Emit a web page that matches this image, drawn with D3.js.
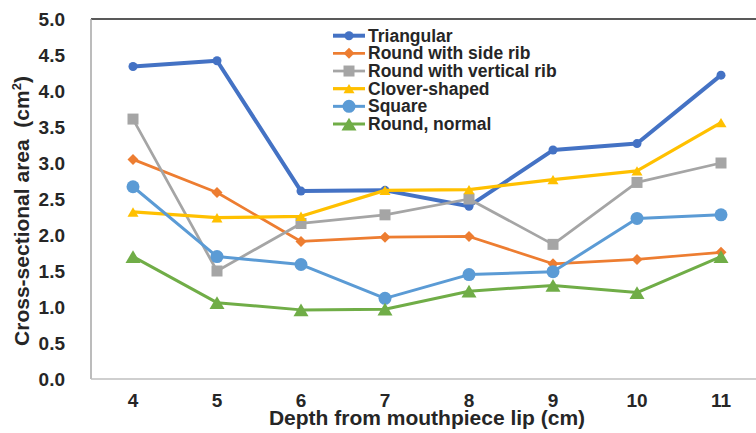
<!DOCTYPE html>
<html>
<head>
<meta charset="utf-8">
<script src="https://cdn.jsdelivr.net/npm/d3@7/dist/d3.min.js"></script>
<style>
  html, body { margin: 0; padding: 0; background: #fff; }
  svg { display: block; font-family: "Liberation Sans", Arial, sans-serif; }
</style>
</head>
<body>
<svg id="chart"></svg>
<script>
// depth categories (cm) and cross-sectional areas (cm²) per mouthpiece shape
const depths = ['4', '5', '6', '7', '8', '9', '10', '11'];
const yTicks = [0, 0.5, 1, 1.5, 2, 2.5, 3, 3.5, 4, 4.5, 5];

const triangular   = [4.34, 4.42, 2.61, 2.62, 2.40, 3.18, 3.27, 4.22];
const sideRib      = [3.05, 2.59, 1.91, 1.97, 1.98, 1.60, 1.66, 1.76];
const verticalRib  = [3.61, 1.50, 2.16, 2.28, 2.50, 1.87, 2.73, 3.00];
const cloverShaped = [2.32, 2.24, 2.26, 2.62, 2.63, 2.77, 2.89, 3.56];
const square       = [2.67, 1.70, 1.59, 1.12, 1.45, 1.49, 2.23, 2.28];
const roundNormal  = [1.70, 1.06, 0.96, 0.97, 1.22, 1.30, 1.20, 1.70];

const seriesNames = ['Triangular', 'Round with side rib', 'Round with vertical rib',
                     'Clover-shaped', 'Square', 'Round, normal'];

const series = [
    { name: seriesNames[0], values: triangular,   color: '#4472C4', width: 4,    marker: 'circle',   size: 4.5 },
    { name: seriesNames[1], values: sideRib,      color: '#ED7D31', width: 2.75, marker: 'diamond',  size: 5.5 },
    { name: seriesNames[2], values: verticalRib,  color: '#A5A5A5', width: 2.75, marker: 'square',   size: 5.5 },
    { name: seriesNames[3], values: cloverShaped, color: '#FFC000', width: 3.25, marker: 'triangle', size: 5.5 },
    { name: seriesNames[4], values: square,       color: '#5B9BD5', width: 3,    marker: 'circle',   size: 6.5 },
    { name: seriesNames[5], values: roundNormal,  color: '#70AD47', width: 3,    marker: 'triangle', size: 7.5 },
];

const W = 756, H = 433;
const plot = { left: 91, top: 19, right: 763, bottom: 379 };

const svg = d3.select('#chart').attr('width', W).attr('height', H);

const x = d3.scaleBand().domain(depths).range([plot.left, plot.right]);
const cx = d => x(d) + x.bandwidth() / 2;
const y = d3.scaleLinear().domain([0, 5]).range([plot.bottom, plot.top]);

// marker path centred on 0,0
function markerPath(type, s) {
    if (type === 'circle') return `M${-s},0A${s},${s} 0 1,0 ${s},0A${s},${s} 0 1,0 ${-s},0Z`;
    if (type === 'diamond') return `M0,${-s}L${s},0L0,${s}L${-s},0Z`;
    if (type === 'square') return `M${-s},${-s}H${s}V${s}H${-s}Z`;
    const h = s * 1.7;
    return `M0,${-h / 2}L${s},${h / 2}L${-s},${h / 2}Z`;
}

// ── plot frame ─────────────────────────────────────────────
svg.append('line')
    .attr('x1', plot.left).attr('x2', W).attr('y1', plot.top).attr('y2', plot.top)
    .attr('stroke', '#595959').attr('stroke-width', 2);
svg.append('line')
    .attr('x1', plot.left).attr('x2', plot.left).attr('y1', plot.top).attr('y2', plot.bottom)
    .attr('stroke', '#A6A6A6').attr('stroke-width', 1.5);
svg.append('line')
    .attr('x1', plot.left).attr('x2', W).attr('y1', plot.bottom).attr('y2', plot.bottom)
    .attr('stroke', '#BFBFBF').attr('stroke-width', 1.5);

// ── axes ───────────────────────────────────────────────────
const yAxis = svg.append('g')
    .attr('transform', `translate(${plot.left},0)`)
    .call(d3.axisLeft(y).tickValues(yTicks).tickSize(0).tickPadding(26).tickFormat(d3.format('.1f')));
yAxis.select('.domain').remove();
yAxis.selectAll('text')
    .attr('font-family', '"Liberation Sans", Arial, sans-serif')
    .attr('font-size', '19px').attr('font-weight', 'bold').attr('fill', '#262626');

const xAxis = svg.append('g')
    .attr('transform', `translate(0,${plot.bottom})`)
    .call(d3.axisBottom(x).tickSize(0).tickPadding(15));
xAxis.select('.domain').remove();
xAxis.selectAll('text')
    .attr('font-family', '"Liberation Sans", Arial, sans-serif')
    .attr('font-size', '19px').attr('font-weight', 'bold').attr('fill', '#262626');

// axis titles
svg.append('text')
    .attr('x', 427).attr('y', 425)
    .attr('text-anchor', 'middle')
    .attr('font-size', '21px').attr('font-weight', 'bold').attr('fill', '#262626')
    .text('Depth from mouthpiece lip (cm)');

const yTitle = svg.append('text')
    .attr('transform', 'translate(29,211) rotate(-90)')
    .attr('text-anchor', 'middle')
    .style('white-space', 'pre')
    .attr('font-size', '21px').attr('font-weight', 'bold').attr('fill', '#262626');
yTitle.append('tspan').text('Cross-sectional area  (cm');
yTitle.append('tspan').attr('font-size', '13px').attr('dy', -8).text('2');
yTitle.append('tspan').attr('dy', 8).text(')');

// ── series ─────────────────────────────────────────────────
const line = d3.line().x((v, i) => cx(depths[i])).y(v => y(v));

series.forEach(s => {
    const g = svg.append('g');
    g.append('path')
        .attr('d', line(s.values))
        .attr('fill', 'none')
        .attr('stroke', s.color)
        .attr('stroke-width', s.width)
        .attr('stroke-linejoin', 'round');
    g.selectAll('path.mk')
        .data(s.values)
        .join('path')
        .attr('class', 'mk')
        .attr('transform', (v, i) => `translate(${cx(depths[i])},${y(v)})`)
        .attr('d', markerPath(s.marker, s.size))
        .attr('fill', s.color);
});

// ── legend ─────────────────────────────────────────────────
const leg = svg.append('g').attr('transform', 'translate(333,35.7)');
series.forEach((s, i) => {
    const row = leg.append('g').attr('transform', `translate(0,${i * 17.66})`);
    row.append('line')
        .attr('x1', 0).attr('x2', 32).attr('y1', 0).attr('y2', 0)
        .attr('stroke', s.color).attr('stroke-width', s.width);
    row.append('path')
        .attr('transform', 'translate(16,0)')
        .attr('d', markerPath(s.marker, s.size))
        .attr('fill', s.color);
    row.append('text')
        .attr('x', 35).attr('y', 0)
        .attr('dy', '0.35em')
        .attr('font-size', '17.5px').attr('font-weight', 'bold').attr('fill', '#262626')
        .text(s.name);
});
</script>
</body>
</html>
